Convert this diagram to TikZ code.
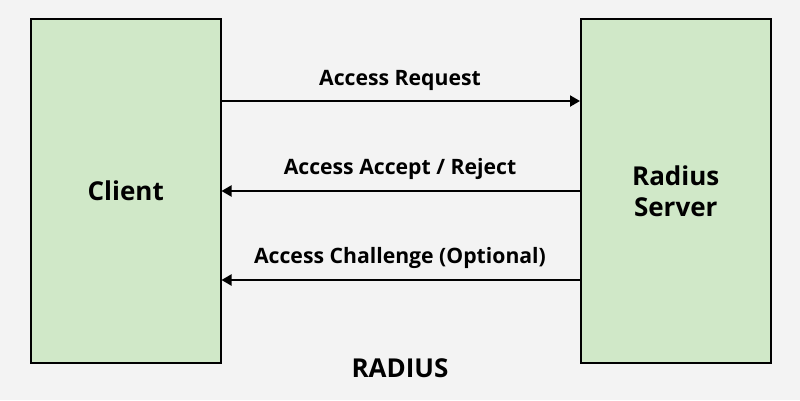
\documentclass[tikz,border=0pt]{standalone}
\usepackage{fontspec}
\setmainfont{Open Sans}
\usetikzlibrary{arrows.meta}
\definecolor{bg}{HTML}{F3F3F3}
\definecolor{boxgreen}{HTML}{D0E8C8}
\tikzset{
  entity/.style={draw=black, line width=1.5pt, fill=boxgreen, minimum width=190pt, minimum height=344pt, inner sep=0pt, anchor=north west},
  msg/.style={line width=2pt, -{Triangle[length=10pt,width=11pt]}},
  lbl/.style={font=\bfseries\fontsize{21.2}{25}\selectfont, inner sep=0pt},
  big/.style={font=\bfseries\fontsize{26}{31}\selectfont, inner sep=0pt, align=center},
}
\begin{document}
\begin{tikzpicture}[x=1pt,y=-1pt]
\fill[bg] (0,0) rectangle (800,400);
\useasboundingbox (0,0) rectangle (800,400);
\node[entity] (client) at (30,18) {};
\node[entity] (server) at (580,18) {};
\node[big] at (client.center) {Client};
\node[big] at (server.center) {Radius\\Server};
\coordinate (c1) at (client.east |- 0,101);
\coordinate (s1) at (server.west |- 0,101);
\coordinate (c2) at (client.east |- 0,191);
\coordinate (s2) at (server.west |- 0,191);
\coordinate (c3) at (client.east |- 0,280);
\coordinate (s3) at (server.west |- 0,280);
\draw[msg] (c1) -- (s1);
\draw[msg] (s2) -- (c2);
\draw[msg] (s3) -- (c3);
\node[lbl] (l1) at (400,80) {Access Request};
\node[lbl] (l2) at (400,169) {Access Accept / Reject};
\node[lbl] (l3) at (400,258) {Access Challenge (Optional)};
\node[big] (title) at (400,368) {RADIUS};
\end{tikzpicture}
\end{document}
